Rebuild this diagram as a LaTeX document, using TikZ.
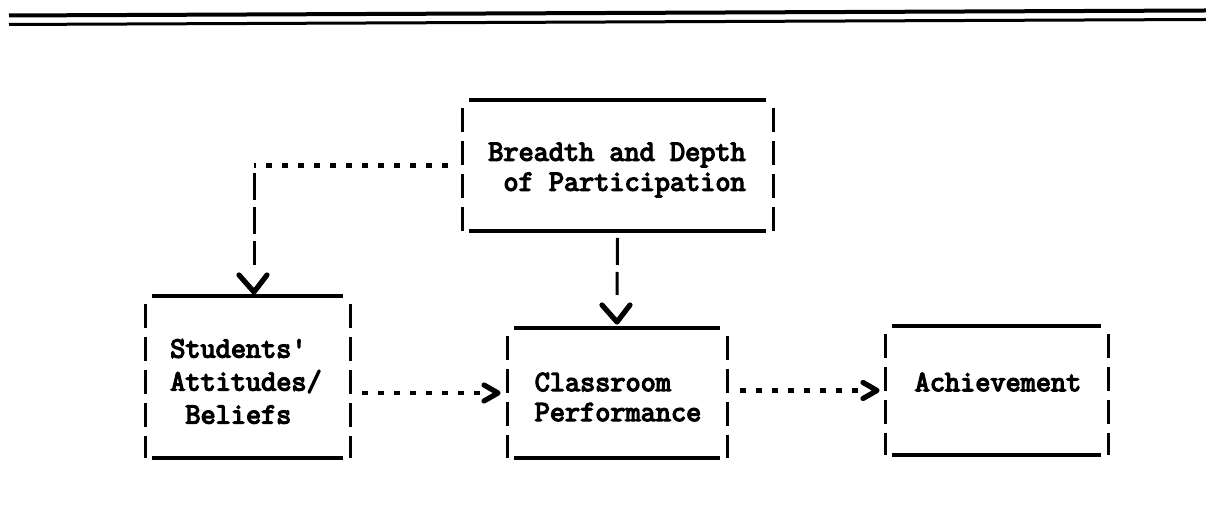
\documentclass[tikz,border=0pt]{standalone}
\usepackage{fontspec}
\newfontfamily\tw{Latin Modern Mono}[FakeBold=4.5]
\usetikzlibrary{calc}
\tikzset{
  rule/.style={line width=1.6pt},
  side/.style={line width=1.5pt, dash pattern=on 12pt off 4.5pt},
  vconn/.style={line width=1.5pt, dash pattern=on 13.5pt off 3.5pt},
  hconn/.style={line width=2.2pt, dash pattern=on 3pt off 5pt},
  headv/.style={line width=2.6pt, line join=round, line cap=round},
  boxn/.style={inner sep=0pt, outer sep=0pt},
  lbl/.style={font=\tw\fontsize{14.7}{15}\selectfont, align=left, inner sep=0pt},
}
\newcommand\tframe[1]{%
  \draw[rule] ([xshift=3.5pt]#1.north west) -- ([xshift=-3.5pt]#1.north east);
  \draw[rule] ([xshift=3.5pt]#1.south west) -- ([xshift=-3.5pt]#1.south east);
  \draw[side] ([yshift=-4pt]#1.north west) -- (#1.south west);
  \draw[side] ([yshift=-4pt]#1.north east) -- (#1.south east);
}
\newcommand\vhead[1]{\draw[headv] ($(#1)+(-15,-17)$) -- (#1) -- ($(#1)+(13,-17)$);}
\newcommand\rhead[1]{\draw[headv] ($(#1)+(-14,-8)$) -- (#1) -- ($(#1)+(-14,8)$);}
\begin{document}
\begin{tikzpicture}[x=0.5pt,y=-0.5pt]
\useasboundingbox (0,0) rectangle (1206,517);
% top rules
\coordinate (r1a) at (9,15.5); \coordinate (r1b) at (1206,10.5);
\coordinate (r2a) at (9,24.5); \coordinate (r2b) at (1206,19.5);
\draw[line width=2pt] (r1a) -- (r1b);
\draw[line width=1.5pt] (r2a) -- (r2b);
% boxes
\node[boxn, minimum width=155.5pt, minimum height=65.5pt] (bd) at (617.5,165.5) {};
\node[boxn, minimum width=102.5pt, minimum height=81pt] (sa) at (247.5,377) {};
\node[boxn, minimum width=110pt, minimum height=65pt] (cp) at (617,393) {};
\node[boxn, minimum width=111.5pt, minimum height=64.5pt] (ac) at (996.5,390.5) {};
\tframe{bd}\tframe{sa}\tframe{cp}\tframe{ac}
% texts
\node[lbl] (bdt) at (617,170) {Breadth and Depth\\\phantom{B}of Participation};
\node[lbl, font=\tw\fontsize{14.7}{16.5}\selectfont] (sat) at (246,381.5) {Students'\\Attitudes/\\\phantom{B}Beliefs};
\node[lbl] (cpt) at (618,397) {Classroom\\Performance};
\node[lbl] (act) at (998,382) {Achievement};
% connector 1: bd -> sa
\coordinate (c1) at (254,165.5);
\coordinate (t1) at ([yshift=2pt]sa.north -| c1);
\draw[hconn] ([xshift=-7pt]bd.west) -- (c1);
\draw[vconn] ([yshift=-4pt]c1) -- ([yshift=13.5pt]t1);
\vhead{t1}
% connector 2: bd -> cp
\coordinate (t2) at ([yshift=3pt]cp.north);
\draw[vconn] ([yshift=-3.5pt]bd.south) -- ([yshift=13.5pt]t2);
\vhead{t2}
% connector 3: sa -> cp
\coordinate (t3) at ([xshift=-4.5pt]cp.west);
\draw[hconn] ([xshift=6pt]sa.east |- t3) -- ([xshift=-7.5pt]t3);
\rhead{t3}
% connector 4: cp -> ac
\coordinate (t4) at ([xshift=-4pt]ac.west);
\draw[hconn] ([xshift=6.5pt]cp.east |- t4) -- ([xshift=-8.5pt]t4);
\rhead{t4}
\end{tikzpicture}
\end{document}
